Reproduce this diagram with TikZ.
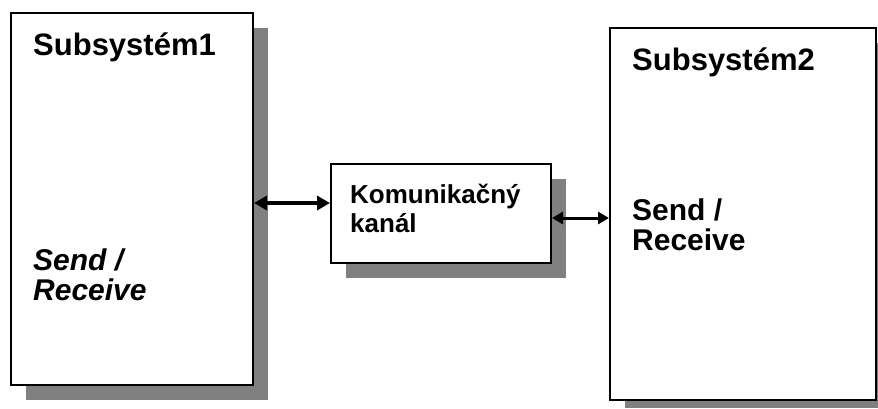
\documentclass[tikz,border=0pt]{standalone}
\usepackage{fontspec}
\setmainfont{Liberation Sans}
\usetikzlibrary{arrows.meta,positioning}

\definecolor{shadowgray}{HTML}{808080}

\begin{document}
\begin{tikzpicture}[x=1pt,y=-1pt,
  box/.style={draw=black,line width=2pt,fill=white,anchor=north west,inner sep=0pt},
  ttl/.style={anchor=base west,inner sep=0pt,font=\fontsize{31}{34}\selectfont\bfseries},
  sendrec/.style={anchor=base west,inner sep=0pt,align=left,font=\fontsize{30}{30}\selectfont\bfseries},
  bigarrow/.style={{Triangle[length=13pt,width=14pt]}-{Triangle[length=13pt,width=14pt]},line width=4pt},
  smallarrow/.style={{Triangle[length=11pt,width=12pt]}-{Triangle[length=11pt,width=12pt]},line width=3pt}]
\useasboundingbox (0,0) rectangle (878,408);
% shadows
\fill[shadowgray] (26,28) rectangle (268,400);
\fill[shadowgray] (346,179) rectangle (566,278);
\fill[shadowgray] (625,43) rectangle (878,408);
% boxes
\node[box,minimum width=242pt,minimum height=372pt] (sub1) at (10,12) {};
\node[box,minimum width=220pt,minimum height=99pt] (kanal) at (330,163) {};
\node[box,minimum width=266pt,minimum height=372pt] (sub2) at (609,27) {};
% texts
\node[ttl] (name1) at (33,55) {Subsystém1};
\node[sendrec,font=\fontsize{30}{30}\selectfont\bfseries\itshape] (sr1) at (33,300) {Send /\\Receive};
\node[ttl] (name2) at (632,70) {Subsystém2};
\node[sendrec] (sr2) at (632,250) {Send /\\Receive};
\node[anchor=base west,inner sep=0pt,align=left,font=\fontsize{26}{29}\selectfont\bfseries] (kanaltext) at (350,232) {Komunikačný\\kanál};
% links
\draw[bigarrow] (sub1.east |- 0,203) -- (kanal.west |- 0,203);
\draw[smallarrow] (kanal.east |- 0,218) -- (sub2.west |- 0,218);
\end{tikzpicture}
\end{document}
